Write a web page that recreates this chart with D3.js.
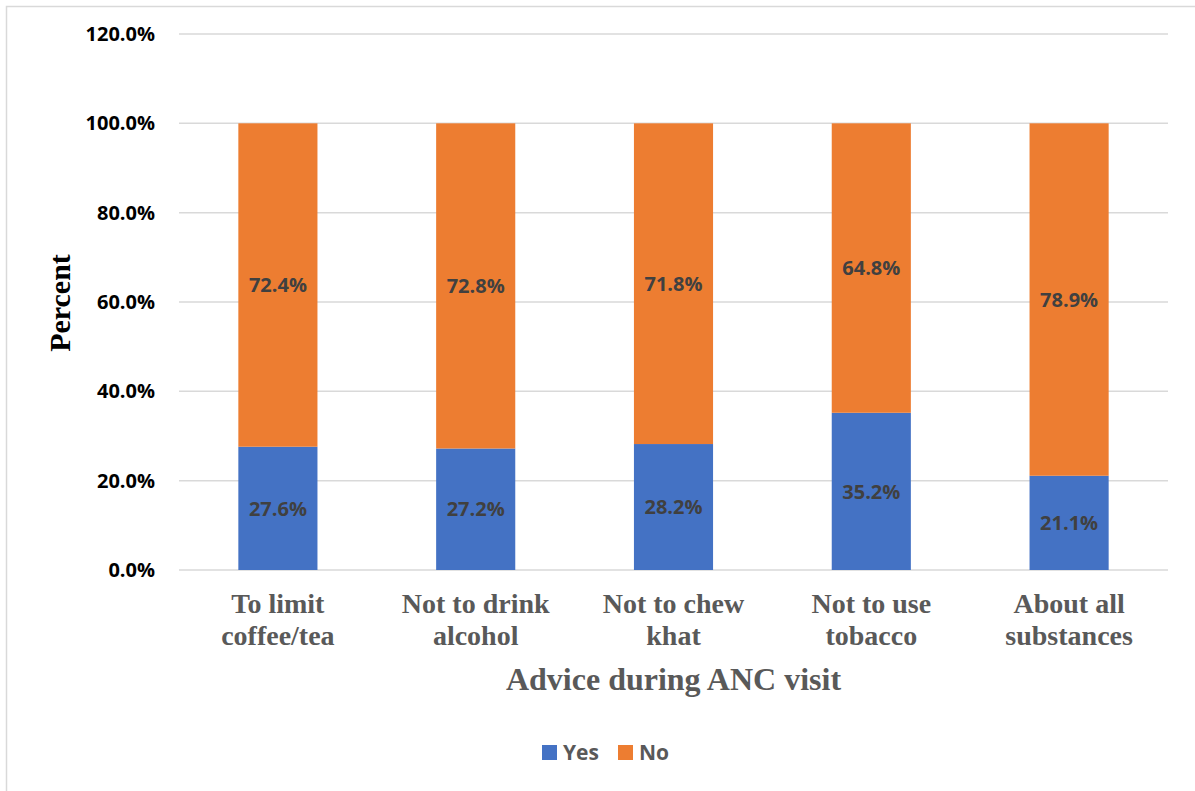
<!DOCTYPE html>
<html><head><meta charset="utf-8">
<script src="https://cdn.jsdelivr.net/npm/d3@7"></script>
<style>body{margin:0;background:#fff}</style>
</head><body>
<svg id="c" width="1195" height="791"></svg>
<script>
const categories = [["To limit","coffee/tea"],["Not to drink","alcohol"],["Not to chew","khat"],["Not to use","tobacco"],["About all","substances"]];
const yesValues = [27.6, 27.2, 28.2, 35.2, 21.1];
const noValues = [72.4, 72.8, 71.8, 64.8, 78.9];
const seriesNames = ["Yes","No"];
const yTicks = [0,20,40,60,80,100,120];
const colors = {Yes:"#4472C4", No:"#ED7D31"};

(function(){
const svg = d3.select("#c");
svg.append("rect").attr("x",6.5).attr("y",6.5).attr("width",1300).attr("height",1000)
  .attr("fill","#fff").attr("stroke","#d9d9d9").attr("stroke-width",1.5);

const pLeft=179, pRight=1168, pTop=34, pBottom=570;
const x = d3.scaleBand().domain(d3.range(categories.length)).range([pLeft,pRight]).paddingInner(0.6).paddingOuter(0.3);
const y = d3.scaleLinear().domain([0,120]).range([pBottom,pTop]);

const sans = "'Open Sans', sans-serif", serif = "'Liberation Serif','Times New Roman',serif";

// gridlines
svg.append("g").selectAll("line").data(yTicks).join("line")
  .attr("x1",pLeft).attr("x2",pRight).attr("y1",d=>y(d)).attr("y2",d=>y(d))
  .attr("stroke","#d9d9d9").attr("stroke-width",1.5);

// y axis labels
const yAxis = d3.axisLeft(y).tickValues(yTicks).tickFormat(d=>d.toFixed(1)+"%").tickSize(0).tickPadding(24);
const ya = svg.append("g").attr("transform",`translate(${pLeft},0)`).call(yAxis);
ya.select(".domain").remove();
ya.selectAll("text").attr("font-family",sans).attr("font-weight",700).attr("font-size",20).attr("fill","#000");

// stacked bars
const rows = categories.map((c,i)=>({i, Yes:yesValues[i], No:noValues[i]}));
const stack = d3.stack().keys(seriesNames)(rows);
stack.forEach(s=>{
  const g = svg.append("g");
  g.selectAll("rect").data(s).join("rect")
    .attr("x",d=>x(d.data.i)).attr("width",x.bandwidth())
    .attr("y",d=>y(d[1])).attr("height",d=>y(d[0])-y(d[1]))
    .attr("fill",colors[s.key]);
  g.selectAll("text").data(s).join("text")
    .attr("x",d=>x(d.data.i)+x.bandwidth()/2).attr("y",d=>y((d[0]+d[1])/2))
    .attr("dy","0.36em").attr("text-anchor","middle")
    .attr("font-family",sans).attr("font-weight",700).attr("font-size",20).attr("fill","#404040")
    .text(d=>d.data[s.key].toFixed(1)+"%");
});

// category labels
const cg = svg.append("g");
categories.forEach((c,i)=>{
  const t = cg.append("text").attr("text-anchor","middle")
    .attr("font-family",serif).attr("font-weight",700).attr("font-size",28).attr("fill","#595959");
  c.forEach((line,k)=>t.append("tspan").attr("x",x(i)+x.bandwidth()/2).attr("y",613+k*32).text(line));
});

// axis titles
svg.append("text").attr("x",(pLeft+pRight)/2).attr("y",690).attr("text-anchor","middle")
  .attr("font-family",serif).attr("font-weight",700).attr("font-size",32).attr("fill","#595959")
  .text("Advice during ANC visit");
svg.append("text").attr("transform","translate(70,303) rotate(-90)").attr("text-anchor","middle")
  .attr("font-family",serif).attr("font-weight",700).attr("font-size",30).attr("fill","#000")
  .text("Percent");

// legend
const legX = [542, 618];
const lg = svg.append("g");
seriesNames.forEach((s,k)=>{
  lg.append("rect").attr("x",legX[k]).attr("y",745).attr("width",15).attr("height",15).attr("fill",colors[s]);
  lg.append("text").attr("x",legX[k]+21).attr("y",752.5).attr("dy","0.36em")
    .attr("font-family",sans).attr("font-weight",700).attr("font-size",21).attr("fill","#595959").text(s);
});
})();
</script>
</body></html>
